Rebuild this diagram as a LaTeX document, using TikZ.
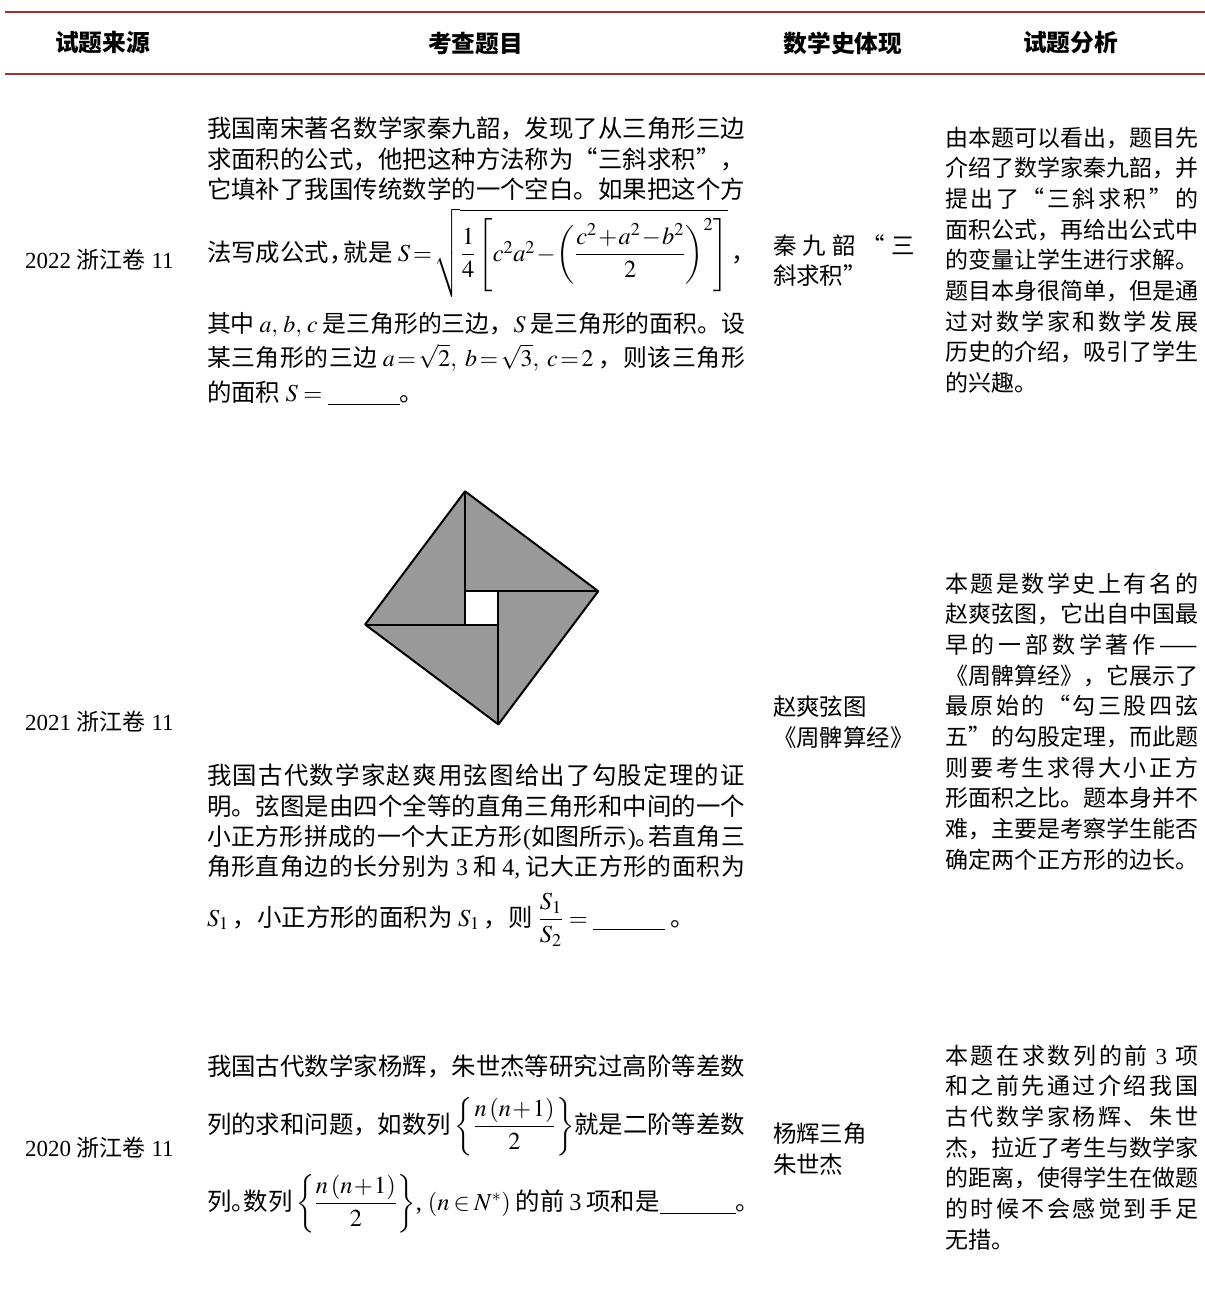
\documentclass[tikz,border=0pt]{standalone}
\usepackage{amsmath}
\usepackage{mathptmx}
\usepackage{fontspec}
\setmainfont{Liberation Serif}
\newfontfamily\cjk{Noto Sans CJK SC}
\newcommand\lt[1]{{\rmfamily #1}}
\newcommand\fg{\hskip0pt plus1fil\relax}
\newcommand\sps{\hspace{0.2em}}
\newcommand\ddash{——}
\newcommand\smallq{\fontsize{17.9pt}{23pt}\selectfont}
\makeatletter
\def\sprd#1{\sprd@a#1\@nil}
\def\sprd@a#1{#1\sprd@b}
\def\sprd@b#1{\ifx\@nil#1\else\hskip0pt plus1fil\relax#1\expandafter\sprd@b\fi}
\makeatother
\definecolor{rulered}{RGB}{155,50,50}
\definecolor{trigray}{RGB}{153,153,153}
\tikzset{
 hdr/.style={font=\cjk\bfseries\fontsize{17.8pt}{21pt}\selectfont},
 srcl/.style={anchor=west,font=\cjk\fontsize{17.25pt}{23pt}\selectfont},
 qn/.style={anchor=base west,font=\cjk\fontsize{18.3pt}{23pt}\selectfont},
 hist/.style={anchor=base west,font=\cjk\fontsize{17.6pt}{23pt}\selectfont},
 anat/.style={anchor=base west,font=\cjk\fontsize{17.25pt}{23pt}\selectfont},
 rule/.style={draw=rulered},
 edge/.style={draw=black,line width=1.5pt,line join=round},
}
% justified question line / analysis line
\newcommand\QJ[3]{\node[qn] (#1) at (207,#2) {\makebox[403.5pt][s]{#3}};}
\newcommand\AJ[3]{\node[anat] (#1) at (945,#2) {\makebox[189.75pt][s]{#3}};}
\newcommand\AN[3]{\node[anat] (#1) at (945,#2) {#3};}
\begin{document}
\begin{tikzpicture}[x=0.75pt,y=-0.75pt,every node/.style={inner sep=0pt,outer sep=0pt}]
\useasboundingbox (0,0) rectangle (1205,1295);
\fill[white] (0,0) rectangle (1205,1295);
% rules
\coordinate (r1a) at (5,12); \coordinate (r1b) at (1205,12);
\coordinate (r2a) at (5,74); \coordinate (r2b) at (1205,74);
\draw[rule,line width=1.5pt] (r1a) -- (r1b);
\draw[rule,line width=1pt] (r2a) -- (r2b);
% header
\node[hdr] (h1) at (102.5,43) {试题来源};
\node[hdr] (h2) at (475.5,43) {考查题目};
\node[hdr] (h3) at (843,43) {数学史体现};
\node[hdr] (h4) at (1070.5,43) {试题分析};
% column 1
\node[srcl] (s1) at (25,260) {\lt{2022 }浙江卷\lt{ 11}};
\node[srcl] (s2) at (25,722) {\lt{2021 }浙江卷\lt{ 11}};
\node[srcl] (s3) at (25,1148) {\lt{2020 }浙江卷\lt{ 11}};
% row 1 question
\QJ{q1a}{137}{\sprd{我国南宋著名数学家秦九韶，发现了从三角形三边}}
\QJ{q1b}{168}{\sprd{求面积的公式，他把这种方法称为“三斜求积”，}}
\QJ{q1c}{198}{\sprd{它填补了我国传统数学的一个空白。如果把这个方}}
\node[qn] (q1d) at (207,261) {\thickmuskip=2mu\medmuskip=1mu 法写成公式\makebox[0.6em][l]{，}就是 $S=\sqrt{\dfrac{1}{4}\left[c^2a^2-\left(\dfrac{c^2+a^2-b^2}{2}\right)^2\right]}$\,，};
\QJ{q1e}{332}{\smallq\sprd{其中}\fg\sps$a,\,b,\,c$\sps\fg\sprd{是三角形的三边，}\fg$S$\sps\fg\sprd{是三角形的面积。设}}
\QJ{q1f}{366}{\smallq\thickmuskip=2mu\sprd{某三角形的三边}\fg\sps$a=\sqrt{2},\ b=\sqrt{3},\ c=2$\sps\fg\sprd{，则该三角形}}
\node[qn] (q1g) at (207,401) {的面积 $S=$ \underline{\hspace{54pt}}。};
% row 2 figure
\coordinate (T) at (465.05,491.3);
\coordinate (R) at (598.25,591.2);
\coordinate (B) at (498.35,724.4);
\coordinate (L) at (365.15,624.5);
\coordinate (A) at (465.05,591.2);
\coordinate (Bp) at (498.35,591.2);
\coordinate (C) at (498.35,624.5);
\coordinate (D) at (465.05,624.5);
\fill[trigray] (T) -- (R) -- (B) -- (L) -- cycle;
\fill[white] (A) -- (Bp) -- (C) -- (D) -- cycle;
\draw[edge] (T) -- (R) -- (B) -- (L) -- cycle;
\draw[edge] (T) -- (D);
\draw[edge] (A) -- (R);
\draw[edge] (Bp) -- (B);
\draw[edge] (L) -- (C);
% row 2 question
\QJ{q2a}{784}{\sprd{我国古代数学家赵爽用弦图给出了勾股定理的证}}
\QJ{q2b}{815}{\sprd{明。弦图是由四个全等的直角三角形和中间的一个}}
\QJ{q2c}{845}{\smallq\sprd{小正方形拼成的一个大正方形}\fg\lt{(}\sprd{如图所示}\lt{)}\makebox[0.5em][l]{。}\fg\sprd{若直角三}}
\QJ{q2d}{875}{\smallq\sprd{角形直角边的长分别为}\fg\sps\lt{3}\sps\fg 和\fg\sps\lt{4,}\sps\fg\sprd{记大正方形的面积为}}
\node[qn] (q2e) at (207,926) {$S_1$\,，小正方形的面积为 $S_1$\,，则 $\dfrac{S_1}{S_2}=$ \underline{\hspace{54pt}} 。};
% row 3 question
\QJ{q3a}{1075}{\sprd{我国古代数学家杨辉，朱世杰等研究过高阶等差数}}
\QJ{q3b}{1133}{\medmuskip=1mu\sprd{列的求和问题，如数列}\fg\hspace{0.15em}$\left\{\dfrac{n\left(n+1\right)}{2}\right\}$\fg\sprd{就是二阶等差数}}
\node[qn] (q3c) at (207,1210) {\medmuskip=1mu\thickmuskip=3mu 列\makebox[0.5em][l]{。}数列\hspace{0.15em}$\left\{\dfrac{n\left(n+1\right)}{2}\right\}$\lt{, }$(n\in N^{*})$\hspace{0.2em}的前\hspace{0.2em}\lt{3}\hspace{0.2em}项和是\underline{\hspace{57pt}}。};
% column 3
\node[hist] (t1a) at (773,254) {\makebox[106.5pt][s]{秦 九 韶 “ 三}};
\node[hist] (t1b) at (773,284) {斜求积”};
\node[hist] (t2a) at (773,715) {赵爽弦图};
\node[hist] (t2b) at (773,746) {《周髀算经》};
\node[hist] (t3a) at (773,1142) {杨辉三角};
\node[hist] (t3b) at (773,1173) {朱世杰};
% column 4, row 1
\AJ{a1a}{146}{\sprd{由本题可以看出，题目先}}
\AJ{a1b}{176.7}{\sprd{介绍了数学家秦九韶，并}}
\AJ{a1c}{207.4}{\sprd{提出了“三斜求积”的}}
\AJ{a1d}{238.1}{\sprd{面积公式，再给出公式中}}
\AJ{a1e}{268.8}{\sprd{的变量让学生进行求解。}}
\AJ{a1f}{299.5}{\sprd{题目本身很简单，但是通}}
\AJ{a1g}{330.2}{\sprd{过对数学家和数学发展}}
\AJ{a1h}{360.9}{\sprd{历史的介绍，吸引了学生}}
\AN{a1i}{391.6}{的兴趣。}
% column 4, row 2
\AJ{a2a}{592}{\sprd{本题是数学史上有名的}}
\AJ{a2b}{622.7}{\sprd{赵爽弦图，它出自中国最}}
\AJ{a2c}{653.4}{\sprd{早的一部数学著作\ddash}}
\AJ{a2d}{684.1}{\sprd{《周髀算经》，它展示了}}
\AJ{a2e}{714.8}{\sprd{最原始的“勾三股四弦}}
\AJ{a2f}{745.5}{\sprd{五”的勾股定理，而此题}}
\AJ{a2g}{776.2}{\sprd{则要考生求得大小正方}}
\AJ{a2h}{806.9}{\sprd{形面积之比。题本身并不}}
\AJ{a2i}{837.6}{\sprd{难，主要是考察学生能否}}
\AN{a2j}{868.3}{确定两个正方形的边长。}
% column 4, row 3
\AJ{a3a}{1064}{\sprd{本题在求数列的前}\fg\ \lt{3}\ \fg 项}
\AJ{a3b}{1094.7}{\sprd{和之前先通过介绍我国}}
\AJ{a3c}{1125.4}{\sprd{古代数学家杨辉、朱世}}
\AJ{a3d}{1156.1}{\sprd{杰，拉近了考生与数学家}}
\AJ{a3e}{1186.8}{\sprd{的距离，使得学生在做题}}
\AJ{a3f}{1217.5}{\sprd{的时候不会感觉到手足}}
\AN{a3g}{1248.2}{无措。}
\end{tikzpicture}
\end{document}
